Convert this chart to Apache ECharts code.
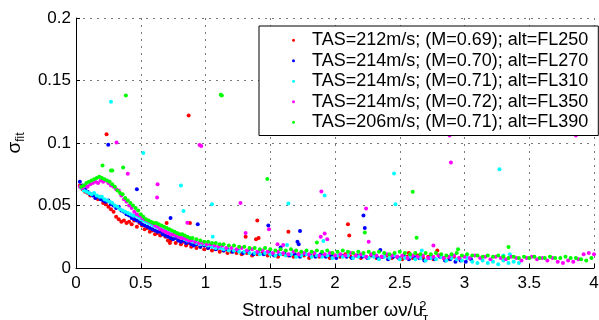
<!DOCTYPE html>
<html>
<head>
<meta charset="utf-8">
<script src="https://cdn.jsdelivr.net/npm/echarts@6/dist/echarts.min.js"></script>
<style>
  html, body { margin: 0; padding: 0; background: #fff; }
  #chart { width: 599px; height: 320px; }
</style>
</head>
<body>
<div id="chart"></div>
<script>
// legend labels
const seriesNames = [
  'TAS=212m/s; (M=0.69); alt=FL250',
  'TAS=214m/s; (M=0.70); alt=FL270',
  'TAS=214m/s; (M=0.71); alt=FL310',
  'TAS=214m/s; (M=0.72); alt=FL350',
  'TAS=206m/s; (M=0.71); alt=FL390'
];
const seriesColors = ['#ff0000', '#0000ff', '#00ffff', '#ff00ff', '#00ff00'];

// [Strouhal number, sigma_fit]
const fl250 = [
  [0.03,0.066],[0.05,0.063],[0.07,0.061],[0.09,0.060],[0.11,0.058],[0.13,0.059],[0.15,0.056],[0.17,0.055],[0.19,0.057],[0.21,0.052],
  [0.23,0.051],[0.25,0.049],[0.27,0.047],[0.29,0.045],[0.31,0.041],[0.33,0.039],[0.35,0.037],[0.37,0.038],[0.39,0.036],[0.41,0.037],
  [0.43,0.035],[0.45,0.038],[0.47,0.033],[0.49,0.036],[0.51,0.034],[0.53,0.031],[0.55,0.032],[0.57,0.029],[0.59,0.030],[0.61,0.027],
  [0.63,0.028],[0.65,0.026],[0.67,0.027],[0.69,0.025],[0.71,0.022],[0.73,0.022],[0.75,0.024],[0.77,0.020],[0.79,0.022],[0.81,0.019],
  [0.83,0.021],[0.85,0.018],[0.87,0.020],[0.89,0.017],[0.91,0.019],[0.93,0.016],[0.96,0.017],[0.99,0.015],[1.02,0.016],[1.05,0.014],
  [1.08,0.015],[1.11,0.013],[1.14,0.014],[1.17,0.012],[1.20,0.013],[1.24,0.012],[1.28,0.011],[1.32,0.012],[1.36,0.010],[1.40,0.011],
  [1.44,0.012],[1.48,0.010],[1.52,0.011],[1.56,0.009],[1.60,0.011],[1.64,0.010],[1.68,0.009],[1.72,0.011],[1.76,0.010],[1.80,0.008],
  [1.84,0.010],[1.88,0.009],[1.92,0.010],[1.96,0.008],[2.00,0.010],[2.04,0.009],[2.08,0.011],[2.12,0.009],[2.16,0.010],[2.20,0.008],
  [2.24,0.009],[2.28,0.010],[2.32,0.008],[2.36,0.009],[2.40,0.010],[2.44,0.008],[2.48,0.009],[2.52,0.007],[2.56,0.009],[2.60,0.008],
  [2.64,0.010],[2.68,0.008],[2.72,0.009],[2.76,0.007],[2.80,0.010],[2.84,0.008],[2.88,0.007],[2.92,0.009],[2.96,0.008],
  // scattered points
  [0.236,0.107],[0.87,0.122],[0.70,0.036],[0.725,0.020],[0.88,0.036],[1.40,0.038],[1.39,0.023],[1.41,0.024],[1.31,0.025],
  [1.64,0.029],[2.10,0.035],[2.11,0.026],[2.79,0.014],[2.57,0.012]
];
const fl270 = [
  [0.03,0.069],[0.05,0.066],[0.07,0.063],[0.09,0.061],[0.11,0.059],[0.13,0.058],[0.15,0.056],[0.17,0.057],[0.19,0.055],[0.21,0.054],
  [0.23,0.053],[0.25,0.054],[0.27,0.051],[0.29,0.050],[0.31,0.048],[0.33,0.049],[0.35,0.046],[0.37,0.045],[0.39,0.043],[0.41,0.042],
  [0.43,0.040],[0.45,0.039],[0.47,0.038],[0.49,0.037],[0.51,0.035],[0.53,0.034],[0.55,0.033],[0.57,0.032],[0.59,0.031],[0.61,0.030],
  [0.63,0.029],[0.65,0.029],[0.67,0.027],[0.69,0.026],[0.71,0.025],[0.73,0.024],[0.75,0.023],[0.77,0.024],[0.79,0.022],[0.81,0.021],
  [0.83,0.022],[0.85,0.020],[0.87,0.021],[0.89,0.019],[0.91,0.018],[0.93,0.019],[0.96,0.017],[0.99,0.018],[1.02,0.016],[1.05,0.017],
  [1.08,0.015],[1.11,0.016],[1.14,0.014],[1.17,0.015],[1.21,0.013],[1.25,0.014],[1.29,0.012],[1.33,0.013],[1.37,0.011],[1.41,0.012],
  [1.45,0.011],[1.49,0.013],[1.53,0.010],[1.57,0.011],[1.61,0.012],[1.65,0.010],[1.69,0.011],[1.73,0.009],[1.77,0.011],[1.81,0.010],
  [1.85,0.009],[1.89,0.011],[1.93,0.009],[1.97,0.010],[2.01,0.008],[2.05,0.010],[2.09,0.009],[2.13,0.008],[2.17,0.010],[2.21,0.009],
  [2.25,0.008],[2.29,0.010],[2.33,0.008],[2.37,0.009],[2.41,0.007],[2.45,0.009],[2.49,0.008],[2.53,0.010],[2.57,0.007],[2.61,0.009],
  [2.65,0.008],[2.69,0.006],[2.73,0.008],[2.77,0.007],[2.81,0.009],[2.85,0.006],[2.89,0.007],[2.93,0.005],[2.97,0.006],[3.01,0.005],
  [3.05,0.007],
  [0.249,0.0987],[0.47,0.063],[0.73,0.040],[0.94,0.035],[1.485,0.034],[1.73,0.0296],[1.71,0.021],[1.72,0.019],[1.58,0.0165],
  [2.22,0.042],[2.23,0.032],[2.35,0.0145]
];
const fl310 = [
  [0.04,0.064],[0.06,0.062],[0.08,0.061],[0.10,0.060],[0.12,0.059],[0.14,0.060],[0.16,0.058],[0.18,0.057],[0.20,0.057],[0.22,0.055],
  [0.24,0.054],[0.26,0.053],[0.28,0.052],[0.30,0.050],[0.32,0.049],[0.34,0.047],[0.36,0.046],[0.38,0.045],[0.40,0.044],[0.42,0.043],
  [0.44,0.042],[0.46,0.042],[0.48,0.041],[0.50,0.039],[0.52,0.038],[0.54,0.037],[0.56,0.036],[0.58,0.035],[0.60,0.034],[0.62,0.033],
  [0.64,0.032],[0.66,0.031],[0.68,0.030],[0.70,0.029],[0.72,0.028],[0.74,0.027],[0.76,0.026],[0.78,0.026],[0.80,0.025],[0.82,0.024],
  [0.84,0.023],[0.86,0.022],[0.88,0.022],[0.90,0.021],[0.93,0.020],[0.96,0.019],[0.99,0.019],[1.02,0.018],[1.05,0.017],[1.08,0.016],
  [1.11,0.016],[1.14,0.015],[1.18,0.014],[1.22,0.014],[1.26,0.013],[1.30,0.013],[1.34,0.012],[1.38,0.012],[1.42,0.011],[1.46,0.012],
  [1.50,0.011],[1.54,0.010],[1.58,0.011],[1.62,0.010],[1.66,0.011],[1.70,0.009],[1.74,0.010],[1.78,0.011],[1.82,0.009],[1.86,0.010],
  [1.90,0.009],[1.94,0.010],[1.98,0.008],[2.02,0.010],[2.06,0.009],[2.10,0.010],[2.14,0.008],[2.18,0.009],[2.22,0.010],[2.26,0.008],
  [2.30,0.009],[2.34,0.007],[2.38,0.009],[2.42,0.008],[2.46,0.010],[2.50,0.007],[2.54,0.008],[2.58,0.009],[2.62,0.007],[2.66,0.008],
  [2.70,0.006],[2.74,0.008],[2.78,0.007],[2.82,0.009],[2.86,0.006],[2.90,0.008],[2.94,0.007],[2.98,0.006],[3.02,0.008],[3.06,0.005],
  [3.10,0.004],[3.14,0.006],[3.18,0.004],[3.22,0.005],[3.26,0.003],[3.30,0.006],[3.34,0.004],[3.38,0.005],[3.42,0.004],
  [0.27,0.133],[0.52,0.092],[0.81,0.066],[0.83,0.0456],[1.05,0.051],[1.056,0.025],[1.64,0.0517],[1.92,0.058],[1.91,0.0216],
  [1.63,0.0184],[2.456,0.0757],[2.467,0.051],[3.27,0.079],[2.67,0.014],[3.35,0.011],[3.30,0.010]
];
const fl350 = [
  [0.03,0.065],[0.05,0.064],[0.07,0.066],[0.09,0.065],[0.11,0.067],[0.13,0.068],[0.15,0.069],[0.17,0.068],[0.19,0.070],[0.21,0.069],
  [0.23,0.070],[0.25,0.068],[0.27,0.066],[0.29,0.065],[0.31,0.063],[0.33,0.062],[0.35,0.058],[0.37,0.055],[0.39,0.053],[0.41,0.050],
  [0.43,0.048],[0.45,0.045],[0.47,0.043],[0.49,0.042],[0.51,0.040],[0.53,0.039],[0.55,0.038],[0.57,0.037],[0.59,0.036],[0.61,0.034],
  [0.63,0.033],[0.65,0.031],[0.67,0.030],[0.69,0.029],[0.71,0.028],[0.73,0.027],[0.75,0.027],[0.77,0.026],[0.79,0.025],[0.81,0.024],
  [0.83,0.024],[0.85,0.023],[0.87,0.022],[0.89,0.022],[0.92,0.021],[0.95,0.020],[0.98,0.020],[1.01,0.019],[1.04,0.019],[1.07,0.018],
  [1.10,0.017],[1.13,0.018],[1.16,0.016],[1.20,0.016],[1.24,0.015],[1.28,0.016],[1.32,0.014],[1.36,0.015],[1.40,0.013],[1.44,0.014],
  [1.48,0.013],[1.52,0.012],[1.56,0.013],[1.60,0.012],[1.64,0.011],[1.68,0.013],[1.72,0.011],[1.76,0.012],[1.80,0.011],[1.84,0.012],
  [1.88,0.010],[1.92,0.011],[1.96,0.012],[2.00,0.010],[2.04,0.011],[2.08,0.010],[2.12,0.012],[2.16,0.010],[2.20,0.011],[2.24,0.009],
  [2.28,0.011],[2.32,0.010],[2.36,0.009],[2.40,0.011],[2.44,0.010],[2.48,0.009],[2.52,0.010],[2.56,0.008],[2.60,0.010],[2.64,0.009],
  [2.68,0.010],[2.72,0.008],[2.76,0.009],[2.80,0.010],[2.84,0.008],[2.88,0.009],[2.92,0.010],[2.96,0.008],[3.00,0.009],[3.04,0.008],
  [3.08,0.010],[3.12,0.008],[3.16,0.009],[3.20,0.007],[3.24,0.009],[3.28,0.008],[3.32,0.007],[3.36,0.009],[3.40,0.008],[3.44,0.006],
  [3.48,0.008],[3.52,0.009],[3.56,0.007],[3.60,0.008],[3.64,0.006],[3.68,0.008],[3.72,0.005],[3.76,0.004],[3.80,0.006],[3.84,0.005],
  [3.88,0.007],[3.92,0.011],[3.96,0.012],[4.00,0.011],
  [0.313,0.1005],[0.40,0.0755],[0.63,0.067],[0.626,0.0565],[0.86,0.0363],[0.954,0.0984],[0.967,0.0976],[1.27,0.052],[1.31,0.028],
  [1.49,0.031],[1.556,0.019],[1.60,0.0184],[1.895,0.0613],[1.92,0.0277],[1.89,0.025],[1.94,0.023],[2.24,0.0477],[2.26,0.021],
  [2.76,0.018],[2.895,0.0845],[2.885,0.106],[3.86,0.106]
];
const fl390 = [
  [0.04,0.065],[0.06,0.066],[0.08,0.068],[0.10,0.069],[0.12,0.070],[0.14,0.071],[0.16,0.072],[0.18,0.073],[0.20,0.072],[0.22,0.071],
  [0.24,0.070],[0.26,0.069],[0.28,0.067],[0.30,0.065],[0.32,0.062],[0.34,0.060],[0.36,0.059],[0.38,0.056],[0.40,0.054],[0.42,0.052],
  [0.44,0.050],[0.46,0.048],[0.48,0.046],[0.50,0.043],[0.52,0.041],[0.54,0.039],[0.56,0.038],[0.58,0.037],[0.60,0.036],[0.62,0.036],
  [0.64,0.035],[0.66,0.034],[0.68,0.033],[0.70,0.032],[0.72,0.031],[0.74,0.030],[0.76,0.029],[0.78,0.028],[0.80,0.027],[0.82,0.027],
  [0.84,0.026],[0.86,0.025],[0.88,0.024],[0.90,0.024],[0.93,0.023],[0.96,0.022],[0.99,0.021],[1.02,0.021],[1.05,0.020],[1.08,0.020],
  [1.11,0.019],[1.14,0.019],[1.18,0.018],[1.22,0.018],[1.26,0.017],[1.30,0.017],[1.34,0.016],[1.38,0.016],[1.42,0.015],[1.46,0.016],
  [1.50,0.015],[1.54,0.014],[1.58,0.015],[1.62,0.014],[1.66,0.015],[1.70,0.014],[1.74,0.013],[1.78,0.014],[1.82,0.013],[1.86,0.014],
  [1.90,0.013],[1.94,0.014],[1.98,0.012],[2.02,0.013],[2.06,0.014],[2.10,0.013],[2.14,0.012],[2.18,0.013],[2.22,0.012],[2.26,0.013],
  [2.30,0.012],[2.34,0.013],[2.38,0.012],[2.42,0.011],[2.46,0.012],[2.50,0.013],[2.54,0.012],[2.58,0.011],[2.62,0.012],[2.66,0.011],
  [2.70,0.012],[2.74,0.011],[2.78,0.012],[2.82,0.011],[2.86,0.010],[2.90,0.011],[2.94,0.012],[2.98,0.010],[3.02,0.011],[3.06,0.010],
  [3.10,0.010],[3.14,0.009],[3.18,0.010],[3.22,0.009],[3.26,0.010],[3.30,0.009],[3.34,0.008],[3.38,0.009],[3.42,0.008],[3.46,0.009],
  [3.50,0.008],[3.54,0.009],[3.58,0.008],[3.62,0.008],[3.66,0.009],[3.70,0.008],[3.74,0.008],[3.78,0.009],[3.82,0.008],[3.86,0.008],
  [3.90,0.007],[3.94,0.006],[3.98,0.008],
  [0.385,0.138],[0.205,0.082],[0.27,0.078],[0.28,0.078],[0.364,0.0805],[1.118,0.1387],[1.126,0.138],[1.477,0.0712],
  [1.86,0.0205],[2.23,0.0285],[2.60,0.061],[2.63,0.0243],[2.95,0.015],[3.34,0.0168]
];
const seriesData = [fl250, fl270, fl310, fl350, fl390];

const xTicks = { min: 0, max: 4, interval: 0.5 };
const yTicks = { min: 0, max: 0.2, interval: 0.05 };

const chart = echarts.init(document.getElementById('chart'));
const font = 'Liberation Sans, Arial, sans-serif';
const grid = { show: true, lineStyle: { color: '#777', type: [2, 5], width: 1 } };

chart.setOption({
  animation: false,
  textStyle: { fontFamily: font },
  grid: { left: 76, right: 5, top: 18, bottom: 52, outerBoundsMode: 'none', containLabel: false },
  legend: {
    orient: 'vertical',
    left: 259,
    top: 26,
    padding: [4, 10, 3, 33],
    itemGap: 0,
    itemWidth: 27,
    itemHeight: 3,
    icon: 'circle',
    backgroundColor: '#fff',
    borderColor: '#000',
    borderWidth: 1,
    textStyle: { fontSize: 18, color: '#000', lineHeight: 20.5, fontFamily: font },
    data: seriesNames
  },
  xAxis: {
    type: 'value',
    min: xTicks.min, max: xTicks.max, interval: xTicks.interval,
    axisLine: { show: true, onZero: false, lineStyle: { color: '#000', width: 1 } },
    axisTick: { show: true, inside: true, length: 4, lineStyle: { color: '#000' } },
    axisLabel: { color: '#000', fontSize: 17, margin: 7 },
    splitLine: grid,
    name: '{t|Strouhal number ων/u}{sup|2}{sub|τ}',
    nameLocation: 'middle',
    nameGap: 29,
    nameTextStyle: {
      rich: {
        t: { fontSize: 18.5, color: '#000', fontFamily: font, lineHeight: 24, verticalAlign: 'middle' },
        sup: { fontSize: 13, color: '#000', fontFamily: font, width: 0, padding: [0, 0, 10, 0] },
        sub: { fontSize: 13, color: '#000', fontFamily: font, padding: [15, 0, 0, 0] }
      }
    }
  },
  yAxis: {
    type: 'value',
    min: yTicks.min, max: yTicks.max, interval: yTicks.interval,
    axisLine: { show: true, lineStyle: { color: '#000', width: 1 } },
    axisTick: { show: true, inside: true, length: 4, lineStyle: { color: '#000' } },
    axisLabel: { color: '#000', fontSize: 17, margin: 5 },
    splitLine: grid,
    name: '{s|σ}{f|fit}',
    nameLocation: 'middle',
    nameGap: 49,
    nameTextStyle: {
      rich: {
        s: { fontSize: 19, color: '#000', fontFamily: font },
        f: { fontSize: 12, color: '#000', fontFamily: font, padding: [12, 0, 0, 0] }
      }
    }
  },
  series: seriesNames.map((name, i) => ({
    name,
    type: 'scatter',
    data: seriesData[i],
    symbol: 'circle',
    symbolSize: 4,
    itemStyle: { color: seriesColors[i], opacity: 1 },
    emphasis: { disabled: true }
  }))
});
</script>
</body>
</html>
